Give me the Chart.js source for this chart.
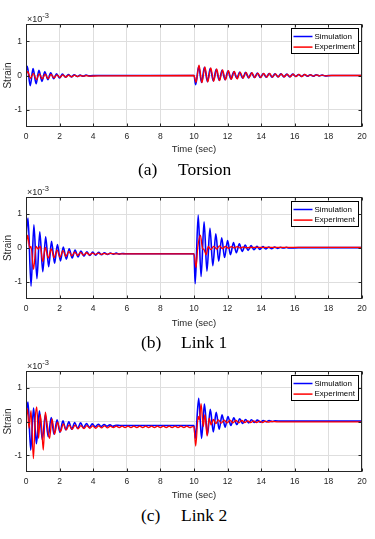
<!DOCTYPE html>
<html>
<head>
<meta charset="utf-8">
<script src="https://cdn.jsdelivr.net/npm/chart.js@4.4.1/dist/chart.umd.min.js"></script>
<style>
    body { margin: 0; background: #fff; width: 375px; height: 539px; position: relative; overflow: hidden; }
    canvas { position: absolute; left: 0; }
    .caption { position: absolute; font-family: "Liberation Serif", serif; font-size: 17.5px; line-height: 17.5px; color: #000; white-space: nowrap; }
</style>
</head>
<body>
<canvas id="chartA" width="375" height="155" style="top:0px"></canvas>
<canvas id="chartB" width="375" height="156" style="top:173px"></canvas>
<canvas id="chartC" width="375" height="154" style="top:347px"></canvas>

<span class="caption" style="left:138px;top:161px">(a)</span>
<span class="caption" style="left:178px;top:161px">Torsion</span>
<span class="caption" style="left:141px;top:334px">(b)</span>
<span class="caption" style="left:181px;top:334px">Link 1</span>
<span class="caption" style="left:141px;top:507px">(c)</span>
<span class="caption" style="left:181px;top:507px">Link 2</span>

<script>
const xTicks = [0, 2, 4, 6, 8, 10, 12, 14, 16, 18, 20];
const yTicks = [-1, 0, 1];
const seriesNames = ["Simulation", "Experiment"];

// (a) Torsion, strain in units of 1e-3
const timeSimA = [0, 0.08, 0.25, 0.42, 0.60, 0.77, 0.95, 1.12, 1.30, 1.47, 1.65, 1.82, 2.00, 2.17, 2.35, 2.52, 2.70, 2.87, 3.05, 3.22, 3.40, 3.57, 3.75, 4.20,
    10.00, 10.10, 10.28, 10.45, 10.62, 10.80, 10.97, 11.15, 11.32, 11.50, 11.67, 11.85, 12.02, 12.20, 12.37, 12.55, 12.72, 12.90, 13.07, 13.25,
    13.42, 13.60, 13.77, 13.95, 14.12, 14.30, 14.47, 14.65, 14.82, 15.00, 15.17, 15.35, 15.52, 15.70, 15.87, 16.05, 16.22, 16.40, 16.57, 16.75,
    16.92, 17.10, 17.27, 17.45, 17.62, 17.80, 18.20, 20.00];
const simA = [0.10, 0.27, -0.30, 0.20, -0.24, 0.15, -0.17, 0.11, -0.12, 0.08, -0.09, 0.05, -0.07, 0.04, -0.05, 0.03, -0.04, 0.02, -0.03, 0.01, -0.02, 0.01, -0.01, 0.00,
    0.00, -0.27, 0.27, -0.20, 0.24, -0.18, 0.21, -0.16, 0.18, -0.14, 0.15, -0.12, 0.13, -0.10, 0.11, -0.08, 0.10, -0.08, 0.09, -0.07,
    0.08, -0.06, 0.07, -0.06, 0.06, -0.05, 0.06, -0.05, 0.05, -0.04, 0.05, -0.04, 0.04, -0.04, 0.04, -0.03, 0.03, -0.03, 0.03, -0.02,
    0.02, -0.02, 0.02, -0.01, 0.01, -0.01, 0.00, 0.00];
const timeExpA = [0, 0.10, 0.27, 0.44, 0.62, 0.79, 0.97, 1.14, 1.32, 1.49, 1.67, 1.84, 2.02, 2.19, 2.37, 2.54, 2.72, 2.89, 3.07, 3.24, 3.42, 3.60, 3.77, 4.30,
    10.00, 10.12, 10.30, 10.47, 10.65, 10.82, 11.00, 11.17, 11.35, 11.52, 11.70, 11.87, 12.05, 12.22, 12.40, 12.57, 12.75, 12.92, 13.10, 13.27,
    13.45, 13.62, 13.80, 13.97, 14.15, 14.32, 14.50, 14.67, 14.85, 15.02, 15.20, 15.37, 15.55, 15.72, 15.90, 16.07, 16.25, 16.42, 16.60, 16.77,
    16.95, 17.12, 17.30, 17.47, 17.65, 17.82, 18.20, 20.00];
const expA = [0.00, 0.12, -0.08, 0.06, -0.12, 0.05, -0.10, 0.04, -0.09, 0.03, -0.07, 0.02, -0.06, 0.02, -0.05, 0.01, -0.04, 0.01, -0.03, 0.00, -0.02, 0.00, -0.02, -0.01,
    0.00, -0.20, 0.30, -0.21, 0.25, -0.19, 0.22, -0.17, 0.19, -0.15, 0.16, -0.13, 0.14, -0.11, 0.12, -0.10, 0.10, -0.08, 0.09, -0.07,
    0.08, -0.06, 0.07, -0.06, 0.06, -0.05, 0.06, -0.05, 0.05, -0.04, 0.05, -0.04, 0.04, -0.04, 0.04, -0.03, 0.03, -0.03, 0.03, -0.02,
    0.02, -0.02, 0.02, -0.01, 0.01, -0.01, 0.00, 0.00];

// (b) Link 1
const timeSimB = [0, 0.12, 0.30, 0.47, 0.65, 0.82, 1.00, 1.17, 1.35, 1.52, 1.70, 1.87, 2.05, 2.22, 2.40, 2.57, 2.75, 2.92, 3.10, 3.27,
    3.45, 3.62, 3.80, 3.97, 4.15, 4.32, 4.50, 4.67, 4.85, 5.02, 5.20, 5.37, 5.55, 5.72, 5.90, 6.50,
    10.00, 10.07, 10.25, 10.42, 10.60, 10.77, 10.95, 11.12, 11.30, 11.47, 11.65, 11.82, 12.00, 12.17, 12.35, 12.52, 12.70, 12.87, 13.05, 13.22,
    13.40, 13.57, 13.75, 13.92, 14.10, 14.27, 14.45, 14.62, 14.80, 14.97, 15.15, 15.32, 15.50, 15.67, 16.20, 20.00];
const simB = [0.30, 0.88, -1.12, 0.68, -0.90, 0.48, -0.70, 0.33, -0.55, 0.20, -0.45, 0.10, -0.38, 0.03, -0.33, -0.02, -0.29, -0.06, -0.26, -0.09,
    -0.24, -0.11, -0.22, -0.12, -0.21, -0.13, -0.20, -0.14, -0.19, -0.15, -0.18, -0.15, -0.18, -0.16, -0.17, -0.17,
    -0.17, -1.05, 0.97, -0.84, 0.77, -0.68, 0.58, -0.52, 0.42, -0.39, 0.30, -0.28, 0.22, -0.20, 0.16, -0.14, 0.12, -0.10, 0.09, -0.07,
    0.07, -0.05, 0.05, -0.04, 0.04, -0.03, 0.03, -0.02, 0.03, -0.01, 0.02, 0.00, 0.02, 0.00, 0.01, 0.01];
const timeExpB = [0, 0.10, 0.22, 0.30, 0.45, 0.60, 0.72, 0.85, 1.00, 1.15, 1.32, 1.50, 1.67, 1.85, 2.02, 2.20, 2.37, 2.55, 2.72, 2.90,
    3.07, 3.25, 3.42, 3.60, 3.77, 3.95, 4.12, 4.30, 4.47, 4.65, 4.82, 5.00, 5.30,
    10.00, 10.12, 10.22, 10.38, 10.50, 10.60, 10.72, 10.85, 11.00, 11.17, 11.35, 11.52, 11.70, 11.87, 12.05, 12.22, 12.40, 12.57, 12.75, 12.92,
    13.10, 13.50, 20.00];
const expB = [0.00, 0.38, 0.00, 0.05, -0.63, 0.05, -0.03, 0.05, -0.40, 0.02, -0.30, -0.03, -0.28, -0.06, -0.27, -0.08, -0.25, -0.10, -0.23, -0.12,
    -0.22, -0.13, -0.21, -0.14, -0.20, -0.15, -0.19, -0.15, -0.19, -0.16, -0.18, -0.16, -0.17,
    -0.17, -0.58, 0.00, 0.38, 0.00, -0.05, -0.20, 0.05, -0.05, 0.05, -0.03, 0.06, -0.02, 0.05, -0.01, 0.04, 0.00, 0.04, 0.00, 0.03,
    0.01, 0.02, 0.02];

// (c) Link 2
const timeSimC = [0, 0.12, 0.28, 0.45, 0.62, 0.80, 0.97, 1.15, 1.32, 1.50, 1.67, 1.85, 2.02, 2.20, 2.37, 2.55, 2.72, 2.90, 3.07, 3.25,
    3.42, 3.60, 3.77, 3.95, 4.12, 4.30, 4.47, 4.65, 4.82, 5.00, 5.17, 5.35, 5.60,
    10.00, 10.08, 10.28, 10.45, 10.62, 10.80, 10.97, 11.15, 11.32, 11.50, 11.67, 11.85, 12.02, 12.20, 12.37, 12.55, 12.72, 12.90, 13.07, 13.25,
    13.42, 13.60, 13.77, 13.95, 14.12, 14.30, 14.47, 14.65, 14.82, 15.20, 20.00];
const simC = [0.20, 0.58, -0.85, 0.40, -0.66, 0.32, -0.54, 0.20, -0.45, 0.12, -0.38, 0.05, -0.32, 0.02, -0.25, -0.01, -0.23, -0.03, -0.21, -0.04,
    -0.19, -0.06, -0.17, -0.07, -0.16, -0.08, -0.15, -0.09, -0.14, -0.10, -0.14, -0.11, -0.12,
    -0.12, -0.50, 0.69, -0.50, 0.52, -0.40, 0.36, -0.31, 0.27, -0.23, 0.20, -0.17, 0.15, -0.12, 0.11, -0.09, 0.08, -0.06, 0.06, -0.04,
    0.05, -0.03, 0.04, -0.02, 0.03, -0.01, 0.03, 0.00, 0.02, 0.01, 0.01];
const timeExpC = [0, 0.08, 0.18, 0.30, 0.44, 0.55, 0.64, 0.75, 0.85, 0.94, 1.03, 1.15, 1.25, 1.40, 1.55, 1.70, 1.87, 2.05, 2.22, 2.40,
    2.57, 2.75, 2.92, 3.10, 3.27, 3.45, 3.62, 3.80, 3.97, 4.15, 4.32, 4.50, 4.67, 4.85, 5.02, 5.20, 5.37, 5.55, 5.72, 5.90,
    6.07, 6.25, 6.42, 6.60, 6.77, 6.95, 7.12, 7.30, 7.47, 7.65, 7.82, 8.00, 8.17, 8.35, 8.52, 8.70, 8.87, 9.05, 9.22, 9.40,
    9.57, 9.75, 9.92, 10.00,
    10.10, 10.25, 10.32, 10.42, 10.55, 10.65, 10.78, 10.90, 11.02, 11.15, 11.30, 11.45, 11.62, 11.80, 11.97, 12.15, 12.32, 12.50, 12.67, 12.85,
    13.02, 13.20, 13.37, 13.55, 13.72, 13.90, 14.07, 14.25, 14.42, 14.60, 15.00, 20.00];
const expC = [0.05, 0.38, -0.20, 0.32, -1.10, 0.10, 0.43, -0.50, 0.20, -0.25, -0.85, 0.28, -0.05, -0.50, 0.08, -0.38, -0.02, -0.30, -0.07, -0.25,
    -0.10, -0.23, -0.11, -0.22, -0.12, -0.21, -0.12, -0.20, -0.13, -0.20, -0.13, -0.19, -0.13, -0.19, -0.14, -0.18, -0.14, -0.18, -0.14, -0.18,
    -0.14, -0.18, -0.14, -0.18, -0.14, -0.18, -0.14, -0.18, -0.14, -0.18, -0.14, -0.18, -0.14, -0.18, -0.14, -0.18, -0.14, -0.18, -0.14, -0.18,
    -0.14, -0.18, -0.15, -0.16,
    -0.73, 0.15, 0.05, 0.53, -0.15, 0.20, -0.43, 0.10, -0.10, 0.06, -0.06, 0.05, -0.05, 0.04, -0.04, 0.04, -0.04, 0.03, -0.04, 0.03,
    -0.03, 0.02, -0.03, 0.02, -0.03, 0.01, -0.03, 0.01, -0.02, 0.00, -0.01, -0.01];

Chart.defaults.font.family = "'Liberation Sans', Arial, sans-serif";
Chart.defaults.color = "#262626";

function toPoints(times, values) {
    return times.map((t, i) => ({ x: t, y: values[i] }));
}

// box, inward ticks, x10^-3 note and the legend, drawn like MATLAB does
const framePlugin = {
    id: "frame",
    afterDraw(chart) {
        const ctx = chart.ctx;
        const area = chart.chartArea;
        const xScale = chart.scales.x;
        const yScale = chart.scales.y;
        const left = Math.round(area.left) + 0.5;
        const right = Math.round(area.right) - 0.5;
        const top = Math.round(area.top) + 0.5;
        const bottom = Math.round(area.bottom) - 0.5;

        ctx.save();
        ctx.strokeStyle = "#262626";
        ctx.lineWidth = 1;
        ctx.beginPath();
        xTicks.forEach(v => {
            const px = Math.round(xScale.getPixelForValue(v)) + 0.5;
            ctx.moveTo(px, bottom);
            ctx.lineTo(px, bottom - 3);
            ctx.moveTo(px, top);
            ctx.lineTo(px, top + 3);
        });
        yTicks.forEach(v => {
            const py = Math.round(yScale.getPixelForValue(v)) + 0.5;
            ctx.moveTo(left, py);
            ctx.lineTo(left + 3, py);
            ctx.moveTo(right, py);
            ctx.lineTo(right - 3, py);
        });
        ctx.stroke();
        ctx.strokeRect(left, top, right - left, bottom - top);

        ctx.fillStyle = "#262626";
        ctx.textBaseline = "alphabetic";
        ctx.font = "9px 'Liberation Sans'";
        ctx.fillText("\u00d710", area.left + 1, area.top - 2);
        const w = ctx.measureText("\u00d710").width;
        ctx.font = "7.5px 'Liberation Sans'";
        ctx.fillText("-3", area.left + 1 + w, area.top - 6);

        const boxLeft = Math.round(area.right) - 71 + 0.5;
        const boxTop = Math.round(area.top) + 4 + 0.5;
        ctx.fillStyle = "#ffffff";
        ctx.fillRect(boxLeft, boxTop, 67, 25);
        ctx.strokeStyle = "#000000";
        ctx.strokeRect(boxLeft, boxTop, 67, 25);
        ctx.font = "8px 'Liberation Sans'";
        ctx.textBaseline = "middle";
        chart.data.datasets.forEach((ds, i) => {
            const y = boxTop + 8 + i * 10.6;
            ctx.strokeStyle = ds.borderColor;
            ctx.lineWidth = 1.5;
            ctx.beginPath();
            ctx.moveTo(boxLeft + 2, y);
            ctx.lineTo(boxLeft + 21, y);
            ctx.stroke();
            ctx.fillStyle = "#000000";
            ctx.fillText(ds.label, boxLeft + 23, y);
        });
        ctx.restore();
    }
};

function makeChart(canvasId, plotHeight, simTime, simValues, expTime, expValues) {
    const canvas = document.getElementById(canvasId);
    const axisHeight = canvas.height - 24 - plotHeight;

    return new Chart(canvas.getContext("2d"), {
        type: "line",
        data: {
            datasets: [
                {
                    label: seriesNames[0],
                    data: toPoints(simTime, simValues),
                    borderColor: "#0000ff",
                    borderWidth: 1.6,
                    pointRadius: 0,
                    cubicInterpolationMode: "monotone",
                    order: 1
                },
                {
                    label: seriesNames[1],
                    data: toPoints(expTime, expValues),
                    borderColor: "#ff0000",
                    borderWidth: 1.3,
                    pointRadius: 0,
                    cubicInterpolationMode: "monotone",
                    order: 0
                }
            ]
        },
        options: {
            responsive: false,
            animation: false,
            events: [],
            layout: { padding: { top: 24, right: 13, bottom: 0, left: 0 } },
            plugins: {
                legend: { display: false },
                tooltip: { enabled: false }
            },
            scales: {
                x: {
                    type: "linear",
                    min: 0,
                    max: 20,
                    afterBuildTicks: scale => { scale.ticks = xTicks.map(v => ({ value: v })); },
                    afterFit: scale => {
                        scale.height = axisHeight;
                        scale.paddingLeft = 0;
                        scale.paddingRight = 0;
                    },
                    grid: { color: "#dedede", drawTicks: false },
                    border: { display: false },
                    ticks: { padding: 5, maxRotation: 0, autoSkip: false, font: { size: 8.5 } },
                    title: { display: true, text: "Time (sec)", padding: 0, font: { size: 9.5 } }
                },
                y: {
                    type: "linear",
                    min: -1.5,
                    max: 1.5,
                    afterBuildTicks: scale => { scale.ticks = yTicks.map(v => ({ value: v })); },
                    afterFit: scale => {
                        scale.width = 26;
                        scale.paddingTop = 0;
                        scale.paddingBottom = 0;
                    },
                    grid: { color: "#dedede", drawTicks: false },
                    border: { display: false },
                    ticks: { padding: 4, font: { size: 8.5 } },
                    title: { display: true, text: "Strain", padding: { top: 2, bottom: 0 }, font: { size: 10 } }
                }
            }
        },
        plugins: [framePlugin]
    });
}

makeChart("chartA", 103, timeSimA, simA, timeExpA, expA);
makeChart("chartB", 102, timeSimB, simB, timeExpB, expB);
makeChart("chartC", 101, timeSimC, simC, timeExpC, expC);
</script>
</body>
</html>
